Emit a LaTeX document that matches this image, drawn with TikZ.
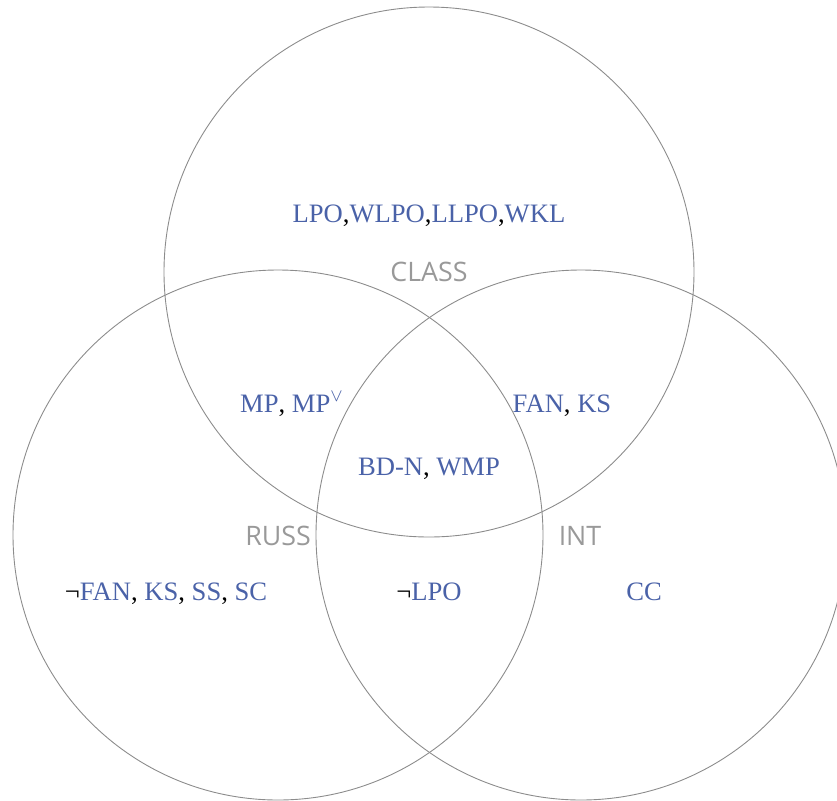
\documentclass[tikz,border=0pt]{standalone}
\usepackage{fontspec}
\setmainfont{Liberation Serif}
\newfontfamily\labelfont{Open Sans}
\definecolor{itemblue}{HTML}{4A62A8}
\definecolor{setgray}{HTML}{999999}
\definecolor{ringgray}{HTML}{8C8C8C}
\tikzset{
  ring/.style={draw=ringgray, line width=0.45pt},
  item/.style={text=itemblue, anchor=base, inner sep=0pt, font=\fontsize{13.3}{16}\selectfont},
  setname/.style={text=setgray, anchor=base, inner sep=0pt, font=\labelfont\fontsize{13.4}{16}\selectfont},
}
\begin{document}
\begin{tikzpicture}[x=0.5pt,y=-0.5pt]
\useasboundingbox (0,0) rectangle (837,800);
\clip (0,0) rectangle (837,800);
\coordinate (cT) at (429,272);
\coordinate (cL) at (278,535);
\coordinate (cR) at (581,535);
\draw[ring] (cT) circle [radius=132.5pt];
\draw[ring] (cL) circle [radius=132.5pt];
\draw[ring] (cR) circle [radius=132.5pt];
\node[item] (classonly) at (429,222) {LPO\textcolor{black}{,}WLPO\textcolor{black}{,}LLPO\textcolor{black}{,}WKL};
\node[setname] (class) at (429,281) {CLASS};
\node[item] (cr) at (292,412) {MP\textcolor{black}{,} MP$^{\vee}$};
\node[item] (ci) at (562,412) {FAN\textcolor{black}{,} KS};
\node[item] (all) at (429,475) {BD-N\textcolor{black}{,} WMP};
\node[setname] (russ) at (278,545) {RUSS};
\node[setname] (int) at (580,545) {INT};
\node[item] (russonly) at (166,600) {\textcolor{black}{¬}FAN\textcolor{black}{,} KS\textcolor{black}{,} SS\textcolor{black}{,} SC};
\node[item] (ri) at (429,600) {\textcolor{black}{¬}LPO};
\node[item] (intonly) at (644,600) {CC};
\end{tikzpicture}
\end{document}
